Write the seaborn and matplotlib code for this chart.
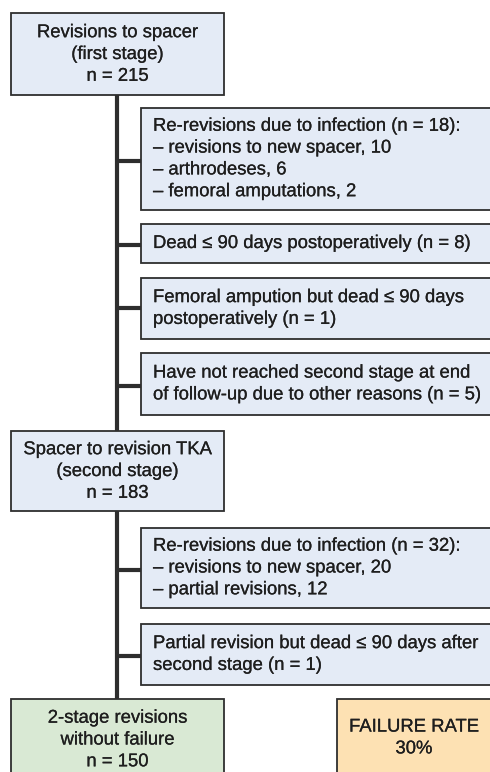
import matplotlib
matplotlib.use("Agg")
import matplotlib.pyplot as plt
from matplotlib.patches import Rectangle
import matplotlib.patheffects as pe
import seaborn as sns

# ---- data (texts of the flowchart) ----
main_texts = [
    "Revisions to spacer\n(first stage)\nn = 215",
    "Spacer to revision TKA\n(second stage)\nn = 183",
    "2-stage revisions\nwithout failure\nn = 150",
]
side_texts_stage1 = [
    "Re-revisions due to infection (n = 18):\n\u2013 revisions to new spacer, 10\n\u2013 arthrodeses, 6\n\u2013 femoral amputations, 2",
    "Dead \u2264 90 days postoperatively (n = 8)",
    "Femoral ampution but dead \u2264 90 days\npostoperatively (n = 1)",
    "Have not reached second stage at end\nof follow-up due to other reasons (n = 5)",
]
side_texts_stage2 = [
    "Re-revisions due to infection (n = 32):\n\u2013 revisions to new spacer, 20\n\u2013 partial revisions, 12",
    "Partial revision but dead \u2264 90 days after\nsecond stage (n = 1)",
]
failure_text = "FAILURE RATE\n30%"

# ---- layout (pixel geometry) ----
W, H = 490, 772
BLUE = "#e4ebf6"
GREEN = "#d9e9d4"
ORANGE = "#fde1b3"
EDGE = "#2e2e2e"
TXT = "#1e1e1e"

sns.set_theme(style="white")
plt.rcParams["font.family"] = ["Liberation Sans", "DejaVu Sans"]

fig = plt.figure(figsize=(W / 100, H / 100), dpi=100)
ax = fig.add_axes([0, 0, 1, 1])
ax.set_xlim(0, W)
ax.set_ylim(H, 0)
ax.axis("off")

FS = 13.3
LS = 1.37
STROKE = [pe.withStroke(linewidth=0.15, foreground=TXT)]

def label(x, y, text, ha="center"):
    ax.text(x, y, text, ha=ha, va="center", multialignment=ha,
            fontsize=FS, color=TXT, linespacing=LS, zorder=3,
            path_effects=STROKE)

def box(x0, y0, x1, y1, color):
    ax.add_patch(Rectangle((x0, y0), x1 - x0, y1 - y0, facecolor=color,
                           edgecolor=EDGE, lw=1.3, zorder=2))

TRUNK_X = 117
LW_TRUNK = 3.0

def seg(xs, ys):
    ax.plot(xs, ys, color=EDGE, lw=LW_TRUNK, zorder=1, solid_capstyle="butt")

# trunk lines
seg([TRUNK_X, TRUNK_X], [95, 431])
seg([TRUNK_X, TRUNK_X], [511, 699])

# main boxes
box(11, 13, 224, 95, BLUE)
label(117.5, 54.5, main_texts[0])
box(11, 431, 224, 511, BLUE)
label(117.5, 471.5, main_texts[1])
box(11, 699, 224, 800, GREEN)
label(117.5, 740, main_texts[2])
box(337, 699, 520, 800, ORANGE)
label(414, 738, failure_text)

# side boxes stage 1
side1 = [(108, 210, 161), (224, 263, 245), (278, 339, 308), (353, 415, 386)]
for (y0, y1, cyc), t in zip(side1, side_texts_stage1):
    seg([TRUNK_X, 141], [cyc, cyc])
    box(141, y0, 520, y1, BLUE)
    label(153, (y0 + y1) / 2, t, ha="left")

side2 = [(528, 608, 570), (624, 685, 656)]
for (y0, y1, cyc), t in zip(side2, side_texts_stage2):
    seg([TRUNK_X, 141], [cyc, cyc])
    box(141, y0, 520, y1, BLUE)
    label(153, (y0 + y1) / 2, t, ha="left")

fig.savefig("out.png", dpi=100, facecolor="white")
